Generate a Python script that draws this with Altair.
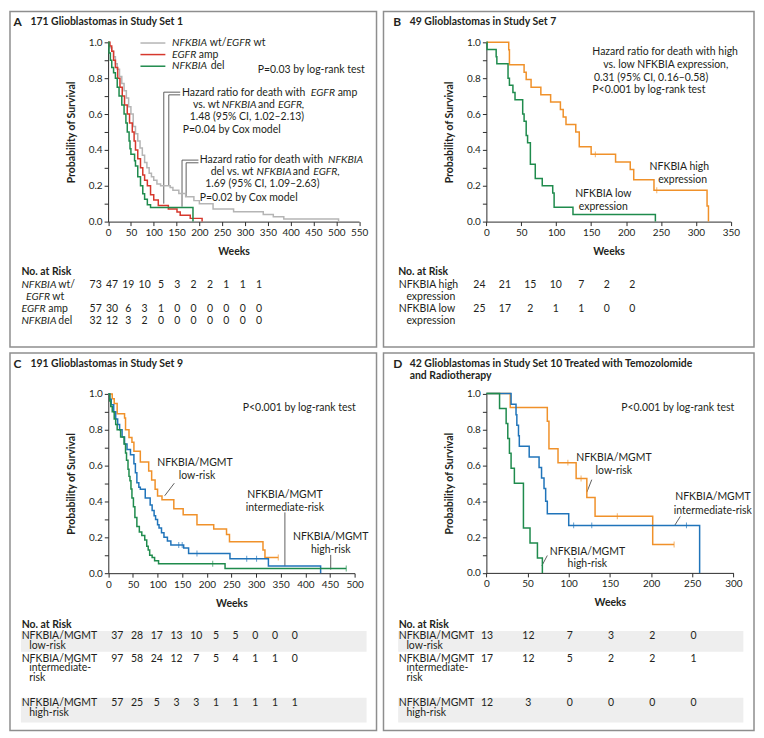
import altair as alt
import pandas as pd

FONT = "Lato"
FS = 10.5
TXT = "#231f20"
AXC = "#2b2b2b"
BORDER = "#8e8e8e"
BAND = "#eeeeee"
LEAD = "#4d4d4d"
C_GRAY, C_RED, C_GREEN, C_ORANGE, C_BLUE = "#b5b5b5", "#d6382d", "#1f8b4d", "#f0912a", "#2074ba"

# ---------------- Panel A data ----------------
A_wt_t = [0, 3, 8, 12, 16, 20, 25, 30, 35, 40, 45, 50, 55, 60, 65, 70, 75, 80, 85, 90,
          95, 100, 107, 115, 136, 142, 155, 170, 188, 200, 230, 275, 340, 362, 385, 505]
A_wt_s = [1.0, 0.97, 0.95, 0.92, 0.88, 0.85, 0.81, 0.77, 0.73, 0.69, 0.64, 0.6, 0.53, 0.49, 0.45, 0.41, 0.37, 0.33, 0.3, 0.27,
          0.25, 0.23, 0.21, 0.2, 0.19, 0.175, 0.157, 0.139, 0.117, 0.1, 0.07, 0.055, 0.04, 0.027, 0.015, 0.0]
A_amp_t = [0, 4, 8, 12, 16, 21, 26, 31, 36, 42, 47, 53, 57, 60, 65, 71, 76, 80, 86, 93, 100, 110, 132, 151, 158, 180, 206]
A_amp_s = [1.0, 0.98, 0.95, 0.9, 0.86, 0.8, 0.75, 0.7, 0.65, 0.6, 0.55, 0.5, 0.45, 0.4, 0.35, 0.3, 0.26, 0.23, 0.2, 0.15,
           0.12, 0.09, 0.07, 0.053, 0.035, 0.018, 0.0]
A_del_t = [0, 2, 5, 8, 12, 16, 20, 24, 30, 35, 39, 42, 46, 48, 50, 58, 60, 65, 71, 76, 80, 86, 93, 186]
A_del_s = [1.0, 0.94, 0.9, 0.86, 0.83, 0.8, 0.75, 0.7, 0.65, 0.6, 0.55, 0.5, 0.45, 0.406, 0.375, 0.34, 0.31, 0.25, 0.2, 0.156,
           0.125, 0.094, 0.078, 0.0]
A_risk_wt = [73, 47, 19, 10, 5, 3, 2, 2, 1, 1, 1]
A_risk_amp = [57, 30, 6, 3, 1, 0, 0, 0, 0, 0, 0]
A_risk_del = [32, 12, 3, 2, 0, 0, 0, 0, 0, 0, 0]

# ---------------- Panel B data ----------------
B_high_t = [0, 32, 33, 54, 57, 64, 78, 92, 106, 110, 114, 128, 133, 150, 185, 206, 211, 240, 316, 318]
B_high_s = [1.0, 0.958, 0.875, 0.833, 0.792, 0.75, 0.708, 0.667, 0.625, 0.583, 0.542, 0.5, 0.417, 0.375, 0.333, 0.29,
            0.233, 0.175, 0.087, 0.0]
B_high_cens_t = [156, 244]
B_high_cens_s = [0.375, 0.175]
B_low_t = [0, 1, 14, 15, 31, 33, 38, 41, 52, 54, 57, 59, 63, 70, 80, 95, 97, 124, 242]
B_low_s = [1.0, 0.96, 0.92, 0.88, 0.8, 0.76, 0.72, 0.68, 0.6, 0.56, 0.48, 0.44, 0.32, 0.24, 0.2, 0.16, 0.08, 0.04, 0.0]
B_risk_high = [24, 21, 15, 10, 7, 2, 2]
B_risk_low = [25, 17, 2, 1, 1, 0, 0]

# ---------------- Panel C data ----------------
C_low_t = [0, 8, 12, 18, 33, 35, 42, 48, 52, 65, 82, 88, 95, 100, 109, 133, 152, 180, 214, 240, 246, 314, 318, 345]
C_low_s = [1.0, 0.973, 0.946, 0.89, 0.865, 0.8, 0.757, 0.73, 0.68, 0.62, 0.57, 0.52, 0.468, 0.43, 0.41, 0.36, 0.326,
           0.27, 0.246, 0.216, 0.176, 0.13, 0.088, 0.088]
C_low_cens_t = [345]
C_low_cens_s = [0.088]
C_int_t = [0, 3, 6, 11, 15, 19, 23, 28, 33, 38, 45, 52, 55, 58, 62, 65, 75, 85, 89, 93, 96, 100, 103, 108, 113, 120,
           127, 153, 163, 247, 325, 431]
C_int_s = [1.0, 0.97, 0.94, 0.9, 0.86, 0.83, 0.8, 0.76, 0.72, 0.69, 0.66, 0.61, 0.56, 0.505, 0.48, 0.468, 0.42, 0.38,
           0.35, 0.32, 0.3, 0.27, 0.252, 0.225, 0.2, 0.18, 0.157, 0.14, 0.11, 0.08, 0.04, 0.0]
C_int_cens_t = [143, 150, 180, 281, 301]
C_int_cens_s = [0.157, 0.157, 0.11, 0.08, 0.08]
C_high_t = [0, 3, 5, 8, 12, 15, 18, 25, 32, 35, 37, 40, 42, 44, 46, 48, 51, 54, 58, 63, 68, 74, 78, 81, 84, 89, 94,
            102, 237, 483]
C_high_s = [1.0, 0.96, 0.93, 0.9, 0.86, 0.83, 0.8, 0.76, 0.72, 0.67, 0.63, 0.58, 0.54, 0.515, 0.47, 0.42, 0.37, 0.31,
            0.26, 0.23, 0.21, 0.185, 0.15, 0.13, 0.1, 0.088, 0.07, 0.053, 0.026, 0.026]
C_high_cens_t = [212, 483]
C_high_cens_s = [0.053, 0.026]
C_risk_low = [37, 28, 17, 13, 10, 5, 5, 0, 0, 0]
C_risk_int = [97, 58, 24, 12, 7, 5, 4, 1, 1, 0]
C_risk_high = [57, 25, 5, 3, 3, 1, 1, 1, 1, 1]

# ---------------- Panel D data ----------------
D_low_t = [0, 29, 74, 76, 87, 109, 122, 132, 202, 228]
D_low_s = [1.0, 0.923, 0.846, 0.692, 0.615, 0.527, 0.42, 0.316, 0.158, 0.158]
D_low_cens_t = [99, 115, 159, 228]
D_low_cens_s = [0.615, 0.527, 0.316, 0.158]
D_int_t = [0, 30, 36, 37, 39, 40, 52, 64, 67, 70, 72, 74, 100, 259]
D_int_s = [1.0, 0.941, 0.882, 0.824, 0.765, 0.706, 0.647, 0.588, 0.529, 0.471, 0.4, 0.33, 0.265, 0.0]
D_int_cens_t = [106, 128, 243]
D_int_cens_s = [0.265, 0.265, 0.265]
D_high_t = [0, 16, 24, 26, 28, 30, 34, 45, 53, 62, 68]
D_high_s = [1.0, 0.917, 0.833, 0.75, 0.667, 0.583, 0.5, 0.25, 0.167, 0.083, 0.0]
D_risk_low = [13, 12, 7, 3, 2, 0]
D_risk_int = [17, 12, 5, 2, 2, 1]
D_risk_high = [12, 3, 0, 0, 0, 0]

# ---------------- layout (reference pixel frame; view origin = page position) ----------------
PA = dict(ox=9, oy=9, W=368, H=337, xmax=550, x0=107.5, x1=359.5, y0=220, y1=40)
PB = dict(ox=382, oy=9, W=372, H=337, xmax=350, x0=485.3, x1=730.7, y0=220, y1=40)
PC = dict(ox=9, oy=350, W=368, H=379, xmax=500, x0=107.7, x1=355.0, y0=571, y1=391)
PD = dict(ox=382, oy=350, W=372, H=379, xmax=300, x0=485.3, x1=733.3, y0=570.7, y1=390.7)


def pscale(n):
    return alt.Scale(domain=[0, n], range=[0, n], nice=False, zero=False)


def xscale(P):
    return alt.Scale(domain=[0, P["xmax"]], range=[P["x0"] - P["ox"], P["x1"] - P["ox"]], nice=False, zero=False)


def yscale(P):
    return alt.Scale(domain=[0, 1], range=[P["y0"] - P["oy"], P["y1"] - P["oy"]], nice=False, zero=False)


def curve(P, t, s, color, with_axes=False):
    df = pd.DataFrame({"t": t, "s": s})
    if with_axes:
        xa = alt.Axis(values=list(range(0, P["xmax"] + 1, 50)), offset=(P["y0"] - P["oy"]) - P["H"],
                      title="Weeks", grid=False, domainColor=AXC, tickColor=AXC, tickSize=4, tickWidth=1,
                      domainWidth=1, labelFont=FONT, labelFontSize=10, labelColor=TXT, labelPadding=2,
                      labelFlush=False, labelOverlap=False, titleFont=FONT, titleFontSize=10.5,
                      titleFontWeight="bold", titleColor=TXT, titlePadding=9)
        ya = alt.Axis(values=[i / 10 for i in range(11)], offset=-(P["x0"] - P["ox"]),
                      labelExpr="round(datum.value*10) % 2 == 0 ? format(datum.value, '.1f') : ''",
                      title="Probability of Survival", grid=False, domainColor=AXC, tickColor=AXC, tickSize=4,
                      tickWidth=1, domainWidth=1, labelFont=FONT, labelFontSize=10, labelColor=TXT,
                      labelPadding=2, labelFlush=False, labelOverlap=False, titleFont=FONT, titleFontSize=10.5,
                      titleFontWeight="bold", titleColor=TXT, titlePadding=12)
    else:
        xa = None
        ya = None
    return alt.Chart(df).mark_line(interpolate="step-after", color=color, strokeWidth=1.5).encode(
        x=alt.X("t:Q", scale=xscale(P), axis=xa),
        y=alt.Y("s:Q", scale=yscale(P), axis=ya),
    )


def cens(P, t, s, color):
    df = pd.DataFrame({"t": t, "s": s})
    return alt.Chart(df).mark_tick(orient="vertical", size=6, thickness=1, color=color).encode(
        x=alt.X("t:Q", scale=xscale(P), axis=None),
        y=alt.Y("s:Q", scale=yscale(P), axis=None),
    )


def leaders(P, segs):
    df = pd.DataFrame(segs, columns=["xa", "ya", "xb", "yb"])
    return alt.Chart(df).mark_rule(color=LEAD, strokeWidth=0.9).encode(
        x=alt.X("xa:Q", scale=xscale(P), axis=None), x2="xb:Q",
        y=alt.Y("ya:Q", scale=yscale(P), axis=None), y2="yb:Q",
    )


def brackets(P, polys):
    recs = []
    for k, pts in enumerate(polys):
        for o, (x, y) in enumerate(pts):
            recs.append({"k": k, "o": o, "x": x, "y": y})
    return alt.Chart(pd.DataFrame(recs)).mark_line(color=LEAD, strokeWidth=0.9).encode(
        x=alt.X("x:Q", scale=xscale(P), axis=None),
        y=alt.Y("y:Q", scale=yscale(P), axis=None),
        detail="k:N", order="o:Q",
    )


def texts(P, items, align="left", **style):
    df = pd.DataFrame({"x": [it[1] - P["ox"] for it in items],
                       "y": [it[2] - P["oy"] for it in items],
                       "label": [it[0] for it in items]})
    mk = dict(align=align, baseline="middle", font=FONT, fontSize=FS, color=TXT)
    mk.update(style)
    return alt.Chart(df).mark_text(**mk).encode(
        x=alt.X("x:Q", scale=pscale(P["W"]), axis=None),
        y=alt.Y("y:Q", scale=pscale(P["H"]), axis=None),
        text="label:N",
    )


def legend_lines(P, segs):
    df = pd.DataFrame(segs, columns=["x", "x2", "y", "k"])
    df["x"] -= P["ox"]
    df["x2"] -= P["ox"]
    df["y"] -= P["oy"]
    return alt.Chart(df).mark_rule(strokeWidth=1.5).encode(
        x=alt.X("x:Q", scale=pscale(P["W"]), axis=None), x2="x2:Q",
        y=alt.Y("y:Q", scale=pscale(P["H"]), axis=None),
        color=alt.Color("k:N", scale=alt.Scale(domain=["g", "r", "n"], range=[C_GRAY, C_RED, C_GREEN]), legend=None),
    )


def bands(P, rects):
    df = pd.DataFrame([(a - P["ox"], b - P["ox"], c - P["oy"], d - P["oy"]) for a, b, c, d in rects],
                      columns=["x", "x2", "y", "y2"])
    return alt.Chart(df).mark_rect(color=BAND).encode(
        x=alt.X("x:Q", scale=pscale(P["W"]), axis=None), x2="x2:Q",
        y=alt.Y("y:Q", scale=pscale(P["H"]), axis=None), y2="y2:Q",
    )


def risk(P, rows, slots, xfirst, xlast, yfirst, ystep):
    recs = []
    for vals, sl in zip(rows, slots):
        for c, v in enumerate(vals):
            recs.append({"c": c, "slot": sl, "v": str(v)})
    ncol = len(rows[0])
    smax = max(slots)
    return alt.Chart(pd.DataFrame(recs)).mark_text(align="center", baseline="middle", font=FONT,
                                                   fontSize=FS, color=TXT).encode(
        x=alt.X("c:Q", scale=alt.Scale(domain=[0, ncol - 1], range=[xfirst - P["ox"], xlast - P["ox"]],
                                       nice=False, zero=False), axis=None),
        y=alt.Y("slot:Q", scale=alt.Scale(domain=[0, smax], range=[yfirst - P["oy"], yfirst + smax * ystep - P["oy"]],
                                          nice=False, zero=False), axis=None),
        text="v:N",
    )


def panel(P, layers):
    return alt.layer(*layers).resolve_scale(x="independent", y="independent").properties(
        width=P["W"], height=P["H"])


# ---------------- Panel A ----------------
pA = panel(PA, [
    texts(PA, [("A", 12.5, 20)], fontWeight="bold", fontSize=12),
    texts(PA, [("171 Glioblastomas in Study Set 1", 29.5, 20)], fontWeight="bold"),
    legend_lines(PA, [(140, 165, 40.7, "g"), (140, 165, 52.3, "r"), (140, 165, 64, "n")]),
    texts(PA, [("NFKBIA", 171.7, 40.7), ("EGFR", 226.5, 40.7), ("EGFR", 171.7, 52.3), ("NFKBIA", 171.7, 64),
               ("EGFR", 311, 90.7), ("NFKBIA", 221.5, 103.3), ("EGFR,", 278, 103.3),
               ("NFKBIA", 328.3, 158.3), ("NFKBIA", 256.5, 170.7), ("EGFR,", 313.5, 170.7)], fontStyle="italic"),
    texts(PA, [("wt/", 209.5, 40.7), ("wt", 253.5, 40.7), ("amp", 198.5, 52.3), ("del", 210.5, 64),
               ("P=0.03 by log-rank test", 257.7, 68),
               ("Hazard ratio for death with", 181.7, 90.7), ("amp", 338, 90.7),
               ("vs. wt", 192.7, 103.3), ("and", 258, 103.3),
               ("1.48 (95% CI, 1.02–2.13)", 189.5, 115), ("P=0.04 by Cox model", 182.5, 127.7),
               ("Hazard ratio for death with", 199.5, 158.3),
               ("del vs. wt", 210.5, 170.7), ("and", 293, 170.7),
               ("1.69 (95% CI, 1.09–2.63)", 205, 182.7), ("P=0.02 by Cox model", 199.5, 196)]),
    brackets(PA, [[(122, 0.10), (122, 0.722), (158, 0.722)], [(133, 0.204), (133, 0.707), (158, 0.707)],
                  [(162, 0.083), (162, 0.343), (198, 0.343)], [(171, 0.139), (171, 0.328), (198, 0.328)]]),
    curve(PA, A_wt_t, A_wt_s, C_GRAY, with_axes=True),
    curve(PA, A_amp_t, A_amp_s, C_RED),
    curve(PA, A_del_t, A_del_s, C_GREEN),
    texts(PA, [("No. at Risk", 20.5, 271)], fontWeight="bold"),
    texts(PA, [("NFKBIA", 20.5, 284), ("EGFR", 25, 296), ("EGFR", 20.5, 308), ("NFKBIA", 20.5, 320)],
          fontStyle="italic"),
    texts(PA, [("wt/", 57.5, 284), ("wt", 51.5, 296), ("amp", 47.5, 308), ("del", 57.5, 320)]),
    risk(PA, [A_risk_wt, A_risk_amp, A_risk_del], [0, 2, 3], 95, 259, 284, 12),
])

# ---------------- Panel B ----------------
pB = panel(PB, [
    texts(PB, [("B", 391.7, 20)], fontWeight="bold", fontSize=12),
    texts(PB, [("49 Glioblastomas in Study Set 7", 408.3, 20)], fontWeight="bold"),
    texts(PB, [("Hazard ratio for death with high", 591.7, 50), ("vs. low NFKBIA expression,", 602.7, 62.5),
               ("0.31 (95% CI, 0.16–0.58)", 593.3, 75.5), ("P<0.001 by log-rank test", 591.7, 88.3)]),
    texts(PB, [("NFKBIA high", 679, 165), ("expression", 682.3, 178), ("NFKBIA low", 602.7, 192.7),
               ("expression", 602.7, 205)], align="center"),
    curve(PB, B_high_t, B_high_s, C_ORANGE, with_axes=True),
    cens(PB, B_high_cens_t, B_high_cens_s, C_ORANGE),
    curve(PB, B_low_t, B_low_s, C_GREEN),
    texts(PB, [("No. at Risk", 396.7, 271)], fontWeight="bold"),
    texts(PB, [("NFKBIA high", 397.3, 284), ("expression", 405, 296), ("NFKBIA low", 397.3, 308),
               ("expression", 405, 320)]),
    risk(PB, [B_risk_high, B_risk_low], [0, 2], 478.3, 631.7, 284, 12),
])

# ---------------- Panel C ----------------
pC = panel(PC, [
    bands(PC, [(20, 367, 629, 650), (20, 367, 696, 721)]),
    texts(PC, [("C", 12.5, 361)], fontWeight="bold", fontSize=12),
    texts(PC, [("191 Glioblastomas in Study Set 9", 29.5, 361)], fontWeight="bold"),
    texts(PC, [("P<0.001 by log-rank test", 242.7, 405)]),
    texts(PC, [("NFKBIA/MGMT", 194.7, 460), ("low-risk", 196.7, 473.3), ("NFKBIA/MGMT", 285, 492.7),
               ("intermediate-risk", 285, 506), ("NFKBIA/MGMT", 331, 535), ("high-risk", 331, 547.7)],
          align="center"),
    leaders(PC, [(114.5, 0.432, 134, 0.502), (358.5, 0.039, 358.5, 0.339), (451.5, 0.02, 451.5, 0.102)]),
    curve(PC, C_low_t, C_low_s, C_ORANGE, with_axes=True),
    cens(PC, C_low_cens_t, C_low_cens_s, C_ORANGE),
    curve(PC, C_int_t, C_int_s, C_BLUE),
    cens(PC, C_int_cens_t, C_int_cens_s, C_BLUE),
    curve(PC, C_high_t, C_high_s, C_GREEN),
    cens(PC, C_high_cens_t, C_high_cens_s, C_GREEN),
    texts(PC, [("No. at Risk", 20.7, 623)], fontWeight="bold"),
    texts(PC, [("NFKBIA/MGMT", 20.7, 634.3), ("low-risk", 28.3, 644.3), ("NFKBIA/MGMT", 20.7, 656.7),
               ("intermediate-", 28.3, 666.7), ("risk", 28.3, 676.7), ("NFKBIA/MGMT", 20.7, 701.7),
               ("high-risk", 28.3, 711.7)]),
    risk(PC, [C_risk_low, C_risk_int, C_risk_high], [0, 1, 3], 116.7, 295, 634.3, 22.45),
])

# ---------------- Panel D ----------------
pD = panel(PD, [
    bands(PD, [(396.7, 743.3, 629, 650), (396.7, 743.3, 696, 721)]),
    texts(PD, [("D", 391.7, 361)], fontWeight="bold", fontSize=12),
    texts(PD, [("42 Glioblastomas in Study Set 10 Treated with Temozolomide", 408.3, 361),
               ("and Radiotherapy", 408.3, 373.5)], fontWeight="bold"),
    texts(PD, [("P<0.001 by log-rank test", 620.7, 405)]),
    texts(PD, [("NFKBIA/MGMT", 613.3, 455.7), ("low-risk", 613.3, 468.3), ("NFKBIA/MGMT", 712.7, 495),
               ("intermediate-risk", 712.7, 508.3), ("NFKBIA/MGMT", 586.7, 549.3), ("high-risk", 586.7, 561.7)],
          align="center"),
    leaders(PD, [(122, 0.45, 128, 0.52), (229, 0.267, 235.5, 0.315), (67.4, 0.04, 74, 0.097)]),
    curve(PD, D_low_t, D_low_s, C_ORANGE, with_axes=True),
    cens(PD, D_low_cens_t, D_low_cens_s, C_ORANGE),
    curve(PD, D_int_t, D_int_s, C_BLUE),
    cens(PD, D_int_cens_t, D_int_cens_s, C_BLUE),
    curve(PD, D_high_t, D_high_s, C_GREEN),
    texts(PD, [("No. at Risk", 397.3, 623)], fontWeight="bold"),
    texts(PD, [("NFKBIA/MGMT", 397.3, 634.3), ("low-risk", 405, 644.3), ("NFKBIA/MGMT", 397.3, 656.7),
               ("intermediate-", 405, 666.7), ("risk", 405, 676.7), ("NFKBIA/MGMT", 397.3, 701.7),
               ("high-risk", 405, 711.7)]),
    risk(PD, [D_risk_low, D_risk_int, D_risk_high], [0, 1, 3], 486, 693.3, 634.3, 22.45),
])

top = alt.hconcat(pA, pB, spacing=5)
bot = alt.hconcat(pC, pD, spacing=5)
chart = alt.vconcat(top, bot, spacing=4).properties(
    padding=1, background="white"
).configure_view(stroke=BORDER, strokeWidth=1.5)

chart.save("out.html", embed_options={"renderer": "svg", "actions": False})
